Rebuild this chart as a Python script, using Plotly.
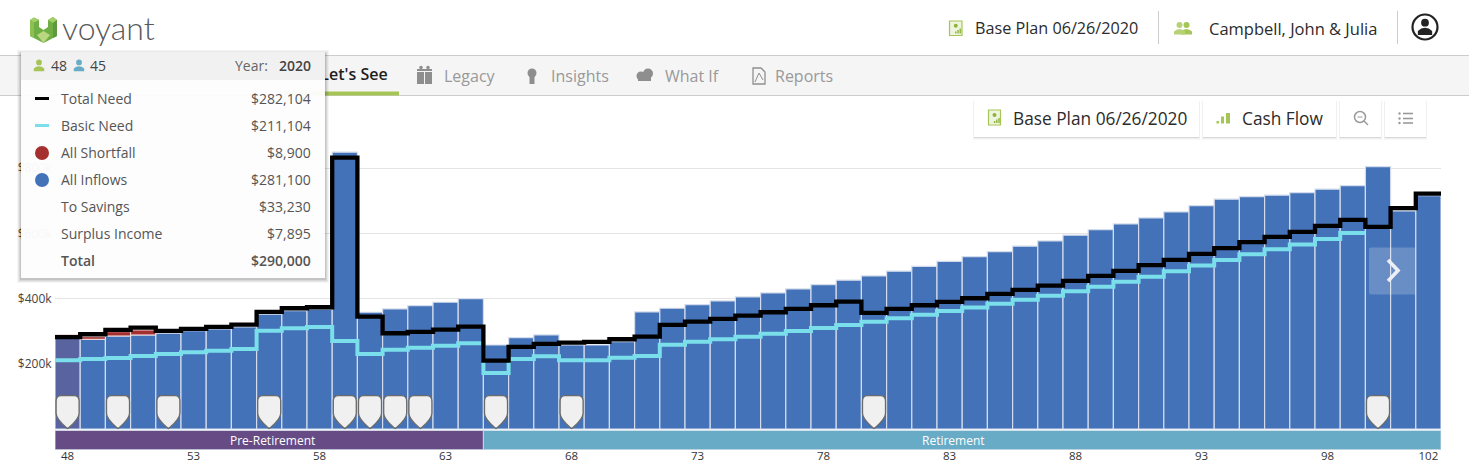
import plotly.graph_objects as go

# Retirement cash-flow chart, values in thousands of dollars per year of age.
ages = list(range(48, 103))
inflows = [281.1, 275.7, 285.8, 288.9, 294.1, 302.1, 307.3, 313.4, 352.4, 363.4, 367.7, 849.2,
           358.5, 368.7, 378.8, 389.2, 400.2, 258.2, 280.5, 288.9, 258.2, 258.2, 268.4, 359.4,
           370.8, 381.8, 393.2, 405.5, 417.7, 430.0, 443.2, 456.7, 469.9, 484.3, 499.0, 514.3,
           529.0, 544.4, 561.0, 577.2, 594.7, 611.9, 629.3, 647.7, 666.1, 685.5, 705.1, 713.1,
           717.4, 725.3, 735.8, 746.8, 805.1, 669.2, 716.1]
shortfall = [8.9, 8.0, 13.2, 15.3] + [None] * 51
total_need = [282.1, 291.1, 304.2, 311.3, 301.2, 307.3, 313.4, 320.5, 359.5, 370.8, 373.9, 832.7,
              345.0, 294.1, 298.1, 305.2, 314.4, 210.1, 252.1, 261.3, 265.3, 267.4, 275.7, 283.7,
              319.6, 329.7, 338.0, 348.1, 358.5, 368.7, 380.0, 391.0, 356.4, 368.7, 380.0, 390.1,
              401.5, 414.7, 426.9, 440.1, 454.5, 469.9, 485.2, 502.7, 518.9, 537.3, 554.8, 573.2,
              589.5, 604.8, 623.2, 641.6, 620.1, 677.5, 722.3]
basic_need = [211.1, 215.3, 218.4, 224.5, 230.6, 235.9, 240.8, 246.0, 302.1, 309.5, 313.4, 270.5,
              230.6, 243.8, 250.0, 256.1, 263.5, 172.4, 215.3, 223.6, 211.3, 211.3, 219.3, 224.5,
              259.2, 268.4, 275.7, 283.7, 292.9, 301.2, 310.4, 319.6, 329.7, 340.1, 351.2, 362.5,
              373.2, 384.9, 397.2, 409.4, 422.9, 437.0, 452.4, 467.7, 484.3, 501.5, 518.9, 536.4,
              551.7, 565.9, 583.3, 601.7]
event_ages = [48, 50, 52, 56, 59, 60, 61, 62, 65, 68, 80, 100]
phase_names = ["Pre-Retirement", "Retirement"]
phase_first_age = [48, 65]
phase_years = [17, 38]
phase_label_age = [56.13, 83.15]
age_ticks = [48, 53, 58, 63, 68, 73, 78, 83, 88, 93, 98, 102]
y_ticks = [200, 400, 600, 800, 1000]
y_tick_labels = ["$200k", "$400k", "$600k", "$800k", ""]

BLUE, HILITE, RED = "#4472B8", "#58639F", "#A52F2F"
BLACK, CYAN, GREEN = "#000000", "#7ADFEB", "#A5C556"
FONT = "Open Sans"
W, H = 1469, 464


def steps(values):
    """Edges and values for a step line that spans each bar's full width."""
    edges = [ages[0] - 0.5 + i for i in range(len(values) + 1)]
    return edges, list(values) + [values[-1]]


fig = go.Figure()
fig.add_bar(x=ages, y=inflows, width=1, name="All Inflows",
            marker=dict(color=[HILITE] + [BLUE] * (len(ages) - 1),
                        line=dict(color="#D3DCEC", width=1.2)))
fig.add_bar(x=ages, y=shortfall, width=1, name="All Shortfall",
            base=inflows,
            marker=dict(color=RED, line=dict(color="#F4E4E4", width=1)))
ex, ey = steps(basic_need)
fig.add_scatter(x=ex, y=ey, mode="lines", name="Basic Need",
                line=dict(color=CYAN, width=4, shape="hv"))
ex, ey = steps(total_need)
fig.add_scatter(x=ex, y=ey, mode="lines", name="Total Need",
                line=dict(color=BLACK, width=4.3, shape="hv"))

# Phase strip beneath the bars
fig.add_bar(x=phase_years, y=["phase", "phase"], base=[a - 0.5 for a in phase_first_age],
            orientation="h", width=1, xaxis="x2", yaxis="y2",
            marker=dict(color=["#674B85", "#68ABC6"], line=dict(color="#C9D6E2", width=1)))

# Page furniture lives on an overlay whose axes count in screen pixels.
# The active tab is a trace so the hover card's shapes can cover its first letter.
fig.add_scatter(x=[354], y=[76], mode="text", xaxis="x3", yaxis="y3",
                text=["Let's See"],
                textfont=dict(family=FONT, size=16, color="#1E1E1E", weight=600),
                textposition="middle center", hoverinfo="skip")

shapes, notes = [], []


def rect(x0, y0, x1, y1, fill, line=None, layer="above", lw=1):
    shapes.append(dict(type="rect", xref="x3", yref="y3", x0=x0, y0=y0, x1=x1, y1=y1,
                       fillcolor=fill, layer=layer,
                       line=dict(color=line or "rgba(0,0,0,0)", width=lw if line else 0)))


def path(d, fill="rgba(0,0,0,0)", line=None, lw=1, layer="above"):
    shapes.append(dict(type="path", xref="x3", yref="y3", path=d, fillcolor=fill, layer=layer,
                       line=dict(color=line or "rgba(0,0,0,0)", width=lw if line else 0)))


def circle(cx, cy, r, fill="rgba(0,0,0,0)", line=None, lw=1, layer="above"):
    shapes.append(dict(type="circle", xref="x3", yref="y3", x0=cx - r, x1=cx + r,
                       y0=cy - r, y1=cy + r, fillcolor=fill, layer=layer,
                       line=dict(color=line or "rgba(0,0,0,0)", width=lw if line else 0)))


def text(x, y, s, anchor="left", size=14, color="#555555", weight=None):
    font = dict(family=FONT, size=size, color=color)
    if weight:
        font["weight"] = weight
    notes.append(dict(xref="x3", yref="y3", x=x, y=y, text=s, showarrow=False, xanchor=anchor,
                      yanchor="middle", font=font, borderpad=0, borderwidth=0))


def person(cx, top, scale, color):
    circle(cx, top + 3.6 * scale, 3.0 * scale, fill=color)
    path(f"M{cx - 5.5 * scale},{top + 13 * scale} L{cx - 5.5 * scale},{top + 10 * scale} "
         f"Q{cx - 3 * scale},{top + 7.5 * scale} {cx},{top + 7.5 * scale} "
         f"Q{cx + 3 * scale},{top + 7.5 * scale} {cx + 5.5 * scale},{top + 10 * scale} "
         f"L{cx + 5.5 * scale},{top + 13 * scale} Z", fill=color)


def plan_icon(x, y, w, h):
    rect(x, y, x + w, y + h, "#EEF4DE", line=GREEN, lw=1.2)
    circle(x + w / 2, y + h * 0.33, 2, fill="#8FB33C")
    for i, bar in enumerate([2, 3.5, 5]):
        rect(x + w * 0.45 + i * 2.2, y + h - 2 - bar, x + w * 0.45 + i * 2.2 + 1.4, y + h - 2, "#8FB33C")


# Header and tab bar
rect(0, 55, W, 96, "#F5F5F5", layer="below")
rect(0, 55, W, 56, "#CCCCCC", layer="below")
rect(0, 95, W, 96, "#CCCCCC", layer="below")
rect(285, 91.5, 399, 95.5, GREEN, layer="below")
rect(1158, 11, 1159, 44, "#CCCCCC")
rect(1397, 11, 1398, 44, "#CCCCCC")

# Logo mark
path("M30,20 L34,17.5 L39,20 L39,27 L43.5,30 L48,27 L48,20 L53,17 L57,20 L57,36 L43.5,43 L30,36 Z",
     fill="#6FAE45")
path("M30,20 L34,22.5 L34,38 L30,36 Z", fill="#8CC152")
path("M34,17.5 L39,20 L34,22.5 L30,20 Z", fill="#A4CF68")
path("M48,20 L53,17 L57,20 L53,23 Z", fill="#A4CF68")
path("M53,23 L57,20 L57,36 L53,38 Z", fill="#5C9A3C")
path("M37,35 L43.5,31 L50,35 L43.5,43 Z", fill="#B9D77F")
notes.append(dict(xref="x3", yref="y3", x=108.5, y=27, text="voyant", showarrow=False,
                  xanchor="center", yanchor="middle",
                  font=dict(family="Lato", size=32, color="#58595B", weight=300)))

plan_icon(949.5, 21, 12.5, 14.5)
text(975, 28, "Base Plan 06/26/2020", size=16.2, color="#2B2B2B")
person(1186.5, 21.5, 1.0, GREEN)
person(1179.5, 21.5, 1.0, "#B7D276")
text(1209, 28, "Campbell, John &amp; Julia", size=16.5, color="#2B2B2B")
circle(1425, 27, 12.5, fill="#FFFFFF", line="#222222", lw=2.2)
person(1425, 18, 1.3, "#222222")

# Tabs
TAB = "#999999"
text(444, 76, "Legacy", size=16, color=TAB)
text(551, 76, "Insights", size=16, color=TAB)
text(665, 76, "What If", size=16, color=TAB)
text(775, 76, "Reports", size=16, color=TAB)
rect(417, 72, 424, 84, "#8E8E8E"); rect(425, 72, 432, 84, "#8E8E8E")
rect(417, 69, 432, 71, "#8E8E8E")
circle(421, 67.5, 1.8, fill="#8E8E8E"); circle(428, 67.5, 1.8, fill="#8E8E8E")
circle(532, 73, 4.5, fill="#8E8E8E"); rect(529.5, 76, 534.5, 84, "#8E8E8E")
circle(641, 76, 4.5, fill="#8E8E8E"); circle(648, 73.5, 5, fill="#8E8E8E"); rect(638, 76, 651, 81, "#8E8E8E")
path("M753,68 L761,68 L765,72 L765,84 L753,84 Z", line="#8E8E8E", lw=1.3)
path("M755,82 L759,73 L763,80", line="#8E8E8E", lw=1)

# Chart toolbar buttons
for x0, x1 in [(974, 1199), (1203, 1336), (1340, 1381), (1385, 1426)]:
    rect(x0 - 1, 101, x1 + 1, 139.5, "rgba(0,0,0,0.06)")
    rect(x0, 101, x1, 138, "rgba(0,0,0,0.10)")
    rect(x0, 101, x1, 137, "#FFFFFF")
plan_icon(988.5, 110, 12, 15)
text(1013, 118.5, "Base Plan 06/26/2020", size=17.3, color="#2B2B2B")
rect(1216.5, 121, 1219, 123.5, "#A5C556"); rect(1221, 116.5, 1224, 123.5, "#A5C556")
rect(1226, 113, 1230, 123.5, "#A5C556")
text(1242, 118.5, "Cash Flow", size=17.3, color="#2B2B2B")
circle(1360, 117, 5.5, line="#9A9A9A", lw=1.5)
path("M1364,121 L1368,125", line="#9A9A9A", lw=1.5)
rect(1357.5, 116.5, 1362.5, 117.5, "#9A9A9A")
for yy in (113.5, 118.5, 123):
    circle(1399.5, yy, 1.2, fill="#9A9A9A")
    rect(1403, yy - 0.8, 1413, yy + 0.8, "#9A9A9A")

# Scroll-forward control
shapes.append(dict(type="path", xref="x3", yref="y3", layer="above", fillcolor="rgba(255,255,255,0.2)",
                   line=dict(width=0),
                   path="M1371,247.5 L1415,247.5 L1415,294.5 L1371,294.5 Q1369,294.5 1369,292.5 "
                        "L1369,249.5 Q1369,247.5 1371,247.5 Z"))
path("M1388,260 L1398,270.5 L1388,281", line="#EDEFF5", lw=3.6)

# Event markers sit on the axis baseline at their age
SHIELD = ("M-11.5,28 C-11.5,31.5 -10,33.5 -6.5,33.5 L6.5,33.5 C10,33.5 11.5,31.5 11.5,28 L11.5,16 "
          "C11.5,10 5,5 0,0.5 C-5,5 -11.5,10 -11.5,16 Z")
for age in event_ages:
    shapes.append(dict(type="path", xref="x", yref="y", xsizemode="pixel", ysizemode="pixel",
                       xanchor=age, yanchor=0, path=SHIELD, fillcolor="#F0F0F0", layer="above",
                       line=dict(color="#6A6A6A", width=1.3)))

# Hover card
for grow, alpha in [(4, 0.04), (3, 0.05), (2, 0.07), (1, 0.09)]:
    rect(21 - grow, 52 - grow + 2, 325 + grow, 278 + grow + 1, f"rgba(0,0,0,{alpha})")
rect(21, 52, 325, 278, "rgba(255,255,255,0.96)")
rect(21, 52, 325, 80, "rgba(241,241,241,0.97)")
person(39, 59, 0.95, GREEN)
text(51, 65.5, "48", color="#444444")
person(79, 59, 0.95, "#68ABC6")
text(90, 65.5, "45", color="#444444")
text(268, 65.5, "Year:", "right", color="#666666")
text(311, 65.5, "2020", "right", color="#444444", weight=600)
rows = [("Total Need", "$282,104"), ("Basic Need", "$211,104"), ("All Shortfall", "$8,900"),
        ("All Inflows", "$281,100"), ("To Savings", "$33,230"), ("Surplus Income", "$7,895"),
        ("Total", "$290,000")]
for i, (label, amount) in enumerate(rows):
    y = 98.5 + 27 * i
    w = 600 if label == "Total" else None
    text(61, y, label, color="#555555", weight=w)
    text(311, y, amount, "right", color="#555555", weight=w)
rect(35, 97, 49, 100, BLACK)
rect(35, 124, 49, 127, CYAN)
circle(42, 153, 7, fill=RED)
circle(42, 180, 7, fill=BLUE)

# Phase names sit on the strip at their own ages
for name, age in zip(phase_names, phase_label_age):
    notes.append(dict(xref="x2", yref="y2", x=age, y="phase", text=name, showarrow=False,
                      xanchor="center", yanchor="middle",
                      font=dict(family=FONT, size=12, color="#FFFFFF")))

fig.update_layout(
    width=W, height=H, autosize=False, barmode="overlay", showlegend=False,
    margin=dict(l=0, r=0, t=0, b=0, autoexpand=False), paper_bgcolor="#FFFFFF",
    plot_bgcolor="rgba(0,0,0,0)",
    font=dict(family=FONT, size=11, color="#444444"),
    shapes=shapes, annotations=notes,
    xaxis=dict(domain=[55 / W, 1441 / W], range=[47.5, 102.5], showticklabels=False,
               showgrid=False, zeroline=False, ticks=""),
    yaxis=dict(domain=[1 - 429.2 / H, 1 - 103 / H], range=[0, 1000], tickvals=y_ticks,
               ticktext=y_tick_labels, gridcolor="#E4E4E4", gridwidth=1, zeroline=False,
               ticks="outside", ticklen=0, tickcolor="rgba(0,0,0,0)",
               tickfont=dict(family=FONT, size=12, color="#444444")),
    xaxis2=dict(domain=[55 / W, 1441 / W], range=[47.5, 102.5], anchor="y2", tickvals=age_ticks,
                showgrid=False, zeroline=False, ticks="", ticklabelstandoff=-2,
                tickfont=dict(family=FONT, size=11.5, color="#333333")),
    yaxis2=dict(domain=[1 - 449.7 / H, 1 - 430.5 / H], anchor="x2", showticklabels=False,
                showgrid=False, zeroline=False, type="category", range=[-0.5, 0.5]),
    xaxis3=dict(domain=[0, 1], range=[0, W], visible=False, anchor="y3"),
    yaxis3=dict(domain=[0, 1], range=[H, 0], visible=False, anchor="x3"),
)

fig.write_html("out.html", config=dict(displayModeBar=False))
